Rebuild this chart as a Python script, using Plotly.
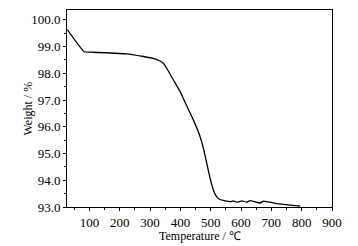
import plotly.graph_objects as go

temperature = [27.5, 82.5, 113, 223, 278, 310, 333, 345, 355, 377, 399, 421, 443, 465, 476, 487, 498, 509, 520, 531, 548, 564, 575, 586, 603, 619, 630, 647, 663, 674, 718, 762, 795]
weight = [99.63, 98.81, 98.79, 98.73, 98.63, 98.56, 98.46, 98.36, 98.19, 97.75, 97.32, 96.78, 96.25, 95.63, 95.19, 94.63, 94.07, 93.63, 93.38, 93.28, 93.23, 93.20, 93.23, 93.18, 93.23, 93.18, 93.24, 93.19, 93.15, 93.22, 93.13, 93.07, 93.03]

x_ticks = [100, 200, 300, 400, 500, 600, 700, 800, 900]
y_ticks = [93.0, 94.0, 95.0, 96.0, 97.0, 98.0, 99.0, 100.0]

fig = go.Figure()
fig.add_trace(go.Scatter(x=temperature, y=weight, mode="lines",
                         line=dict(color="black", width=1.3, shape="spline", smoothing=0.3),
                         showlegend=False))

font = dict(family="Liberation Serif", size=13, color="black")
tfont = dict(family="Liberation Serif", size=12, color="black")
fig.update_layout(
    width=358, height=246,
    margin=dict(l=67, r=26, t=10, b=39, autoexpand=False),
    paper_bgcolor="white", plot_bgcolor="white",
    font=font,
)
fig.update_xaxes(range=[26, 900], tickvals=x_ticks, ticktext=[str(v) for v in x_ticks],
                 showline=True, linecolor="black", linewidth=1, mirror=True,
                 ticks="outside", ticklen=3, tickcolor="black", showgrid=False, zeroline=False,
                 tickfont=font, automargin=False,
                 minor=dict(dtick=50, tick0=0, ticks="outside", ticklen=2, tickcolor="black"))
fig.update_yaxes(range=[93.0, 100.37], tickvals=y_ticks, ticktext=[f"{v:.1f}" for v in y_ticks],
                 showline=True, linecolor="black", linewidth=1, mirror=True,
                 ticks="outside", ticklen=3, tickcolor="black", showgrid=False, zeroline=False,
                 tickfont=font, automargin=False,
                 minor=dict(dtick=0.5, tick0=93, ticks="outside", ticklen=2, tickcolor="black"))

fig.add_annotation(text="Temperature / ℃", xref="paper", yref="paper", x=0.5, y=0,
                   yshift=-29, xanchor="center", yanchor="middle", showarrow=False, font=tfont)
fig.add_annotation(text="Weight / %", xref="paper", yref="paper", x=0, y=0.5,
                   xshift=-40, xanchor="center", yanchor="middle", textangle=-90,
                   showarrow=False, font=tfont)

fig.write_html("out.html", config={"displayModeBar": False},
               post_script="document.body.style.margin='0px';document.body.style.padding='0px';")
